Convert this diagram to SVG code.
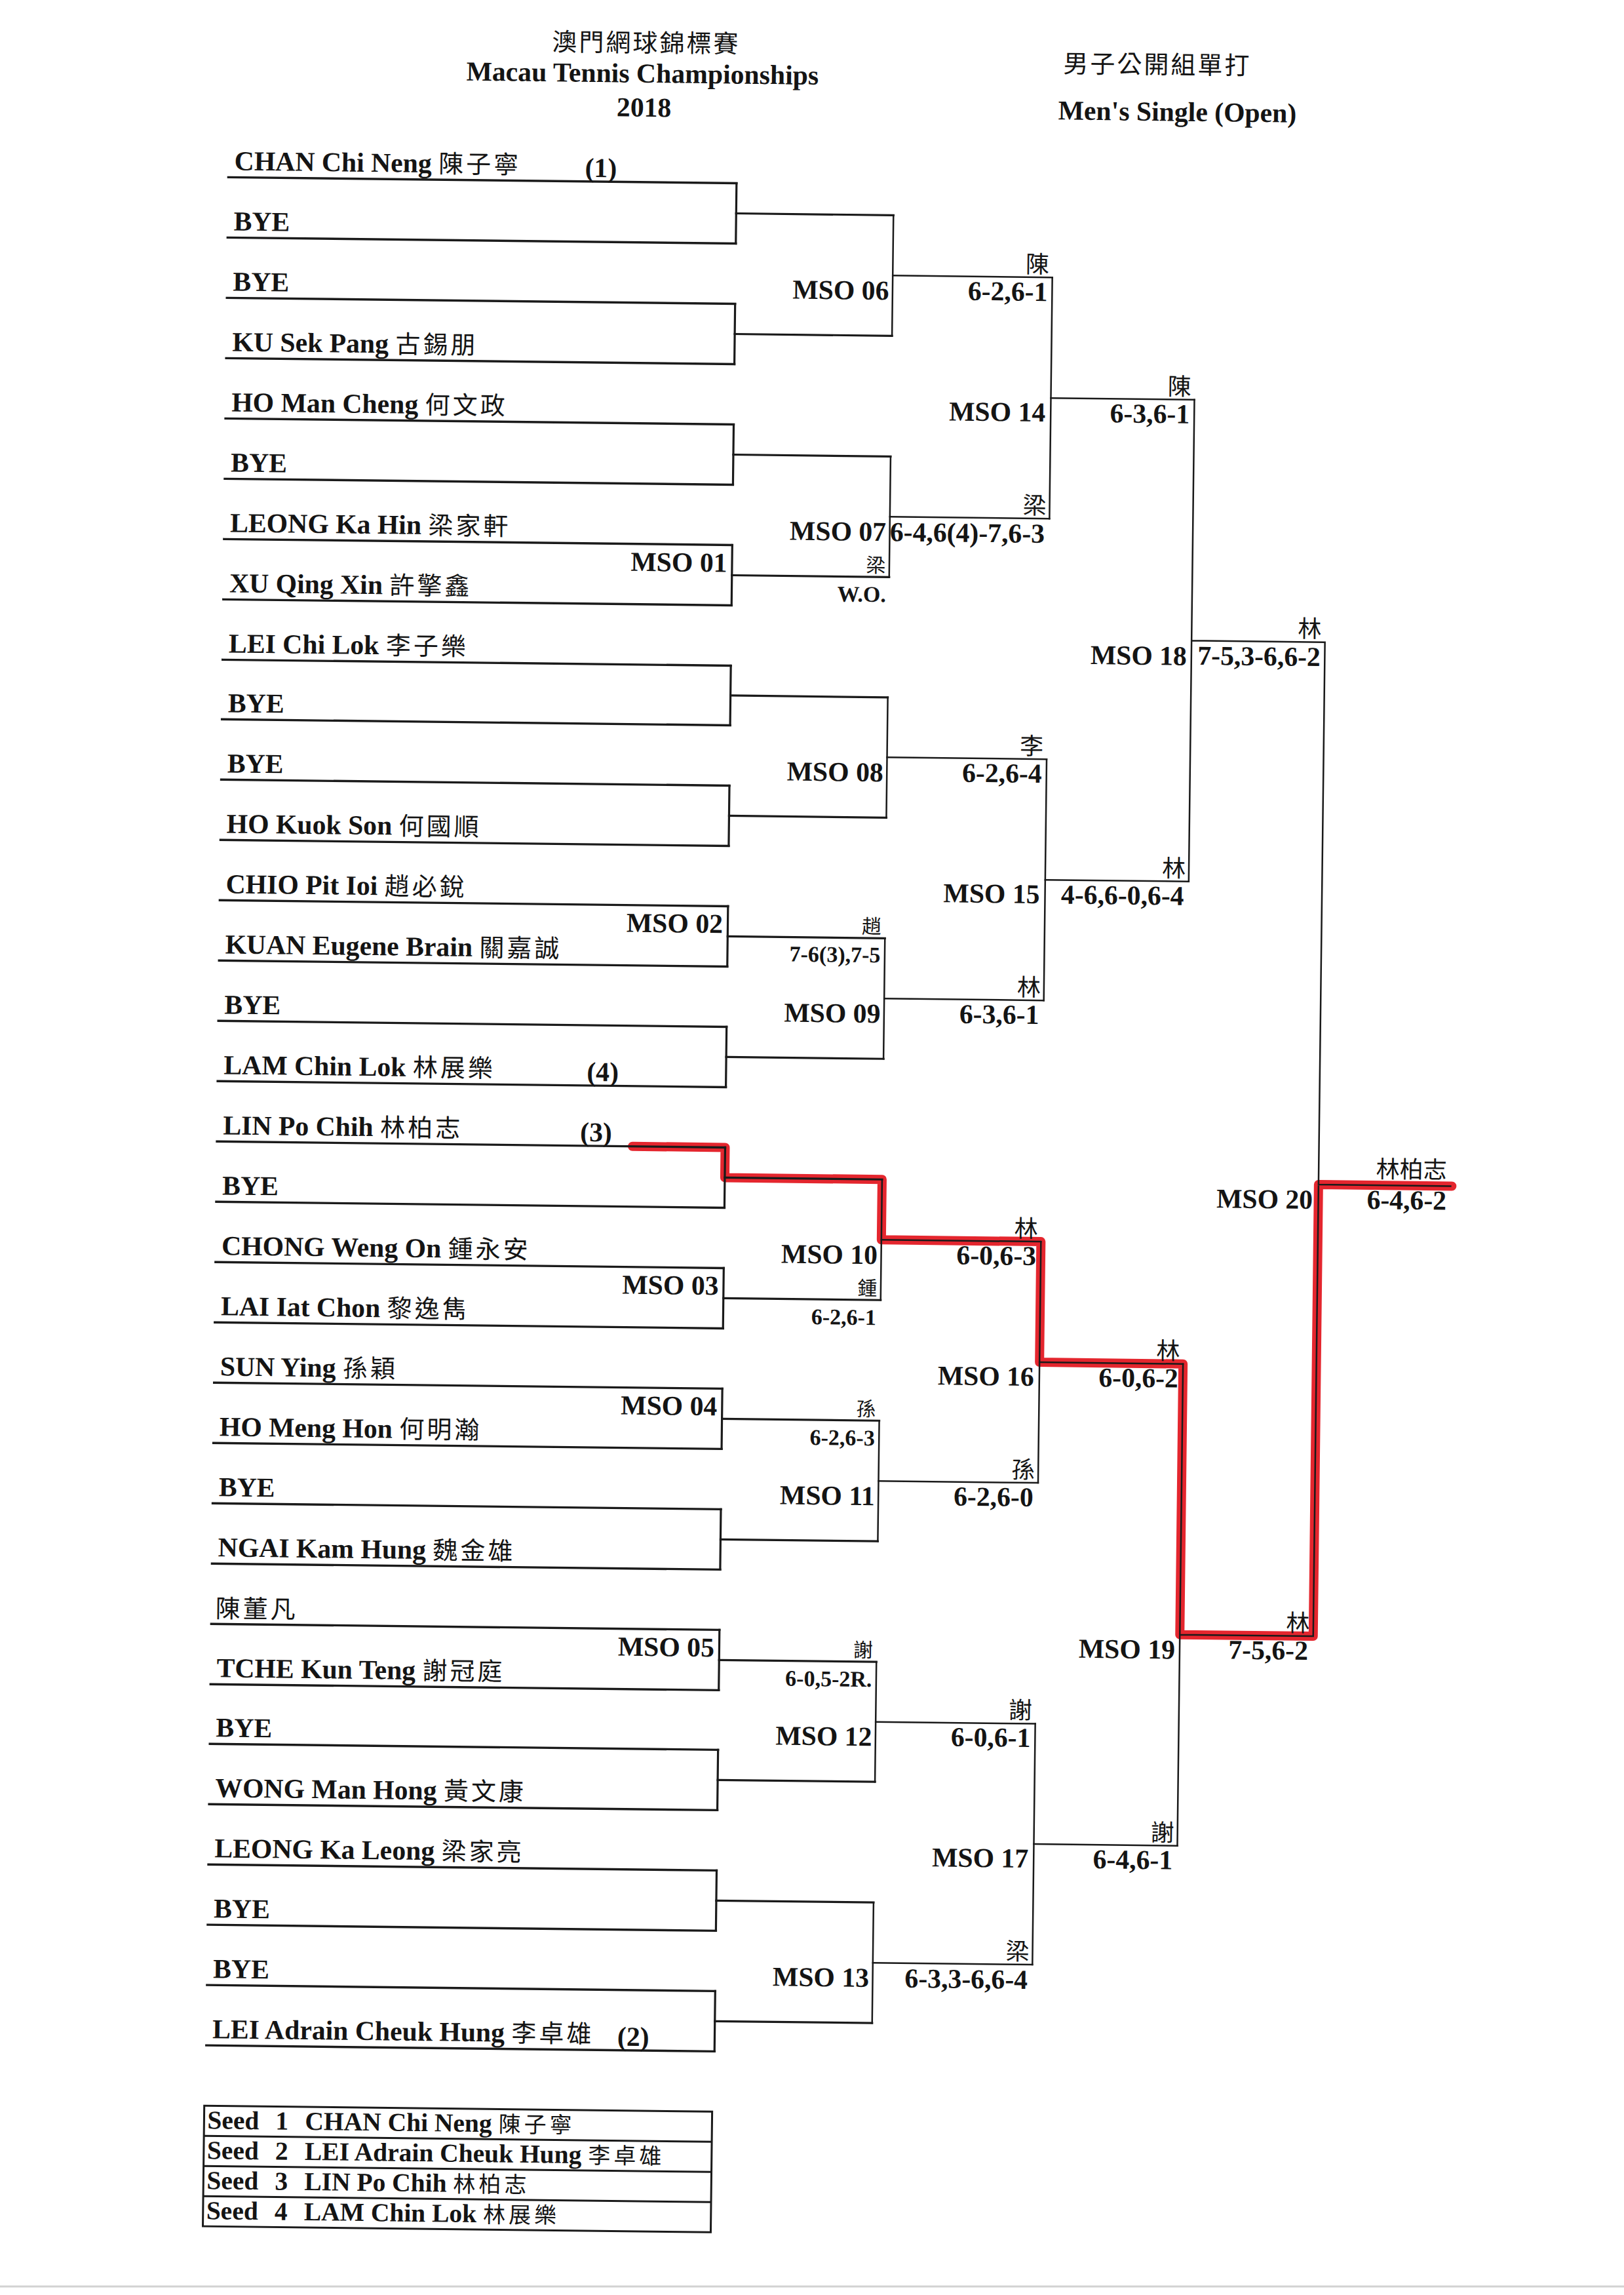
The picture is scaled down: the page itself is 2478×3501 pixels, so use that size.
<svg xmlns="http://www.w3.org/2000/svg" width="2478" height="3501" viewBox="0 0 2478 3501">
<style>
.t{font-family:"Liberation Serif","Times New Roman",serif;font-weight:bold;font-size:41.7px;fill:#141414}
.s{font-size:34px}
.sd{font-size:39.5px}
.e{text-anchor:end}
.m{text-anchor:middle}
.cj{font-family:"Noto Sans CJK TC","Noto Sans CJK SC",sans-serif;font-weight:400;font-size:38px;letter-spacing:4px}
.cjd{font-size:34px;letter-spacing:5px}
.cw{font-family:"Noto Sans CJK TC","Noto Sans CJK SC",sans-serif;font-weight:400;font-size:36px;fill:#141414}
.cws{font-size:30px}
.pl{stroke:#1a1a1a;stroke-width:3.4;fill:none;stroke-linecap:square}
.c1{stroke:#1a1a1a;stroke-width:3.2;fill:none;stroke-linecap:square}
.c2{stroke:#1a1a1a;stroke-width:2.5;fill:none;stroke-linecap:square}
.red{stroke:#e4262e;stroke-width:14;fill:none;stroke-linejoin:round;stroke-linecap:round}
.box{stroke:#1a1a1a;stroke-width:3;fill:none}
</style>
<rect x="0" y="0" width="2478" height="3501" fill="#ffffff"/>
<path d="M0 3488H2478" stroke="#d2d2d2" stroke-width="3" fill="none"/>
<g transform="rotate(0.676 1240 1750)">
<g id="title">
<text class="cw m" x="966" y="82" style="font-size:38px;letter-spacing:3px">澳門網球錦標賽</text>
<text class="t m" x="961" y="129">Macau Tennis Championships</text>
<text class="t m" x="964" y="181">2018</text>
<text class="cw" x="1603" y="106" style="font-size:38px;letter-spacing:3px">男子公開組單打</text>
<text class="t" x="1596" y="178">Men's Single (Open)</text>
</g>
<g id="red-path">
<path class="red" d="M965 1752H1106.5V1798H1346.5V1890H1590V2074H1809V2487H2012.5V1798H2216"/>
</g>
<g id="connectors">
<path class="c1" d="M1106.5 281V373M1106.5 465V557M1106.5 649V741M1106.5 833V925M1106.5 1017V1108M1106.5 1200V1292M1106.5 1384V1476M1106.5 1568V1660M1106.5 1752V1844M1106.5 1936V2028M1106.5 2120V2212M1106.5 2304V2396M1106.5 2488V2580M1106.5 2671V2763M1106.5 2855V2947M1106.5 3039V3131"/>
<path class="c1" d="M1106.5 327H1346.5M1106.5 511H1346.5M1106.5 695H1346.5M1106.5 879H1346.5M1106.5 1062.5H1346.5M1106.5 1246H1346.5M1106.5 1430H1346.5M1106.5 1614H1346.5M1106.5 1798H1346.5M1106.5 1982H1346.5M1106.5 2166H1346.5M1106.5 2350H1346.5M1106.5 2534H1346.5M1106.5 2717H1346.5M1106.5 2901H1346.5M1106.5 3085H1346.5"/>
<path class="c2" d="M1346.5 327V511M1346.5 695V879M1346.5 1062.5V1246M1346.5 1430V1614M1346.5 1798V1982M1346.5 2166V2350M1346.5 2534V2717M1346.5 2901V3085"/>
<path class="c2" d="M1346.5 419H1590M1346.5 787H1590M1346.5 1154H1590M1346.5 1522H1590M1346.5 1890H1590M1346.5 2258H1590M1346.5 2625.5H1590M1346.5 2993H1590"/>
<path class="c2" d="M1590 419V787M1590 1154V1522M1590 1890V2258M1590 2625.5V2993"/>
<path class="c2" d="M1590 603H1809M1590 1338H1809M1590 2074H1809M1590 2809H1809"/>
<path class="c2" d="M1809 603V1338M1809 2074V2809M1809 970.5H2012.5M1809 2487H2012.5M2012.5 970.5V2487M2012.5 1798H2214"/>
</g>
<g id="players">
<g id="p01"><path class="pl" d="M331 281H1106.5"/><text class="t" x="340" y="270">CHAN Chi Neng <tspan class="cj">陳子寧</tspan></text><text class="t" x="875" y="274">(1)</text></g>
<g id="p02"><path class="pl" d="M331 373H1106.5"/><text class="t" x="340" y="362">BYE</text></g>
<g id="p03"><path class="pl" d="M331 465H1106.5"/><text class="t" x="340" y="454">BYE</text></g>
<g id="p04"><path class="pl" d="M331 557H1106.5"/><text class="t" x="340" y="546">KU Sek Pang <tspan class="cj">古錫朋</tspan></text></g>
<g id="p05"><path class="pl" d="M331 649H1106.5"/><text class="t" x="340" y="638">HO Man Cheng <tspan class="cj">何文政</tspan></text></g>
<g id="p06"><path class="pl" d="M331 741H1106.5"/><text class="t" x="340" y="730">BYE</text></g>
<g id="p07"><path class="pl" d="M331 833H1106.5"/><text class="t" x="340" y="822">LEONG Ka Hin <tspan class="cj">梁家軒</tspan></text></g>
<g id="p08"><path class="pl" d="M331 925H1106.5"/><text class="t" x="340" y="914">XU Qing Xin <tspan class="cj">許擎鑫</tspan></text></g>
<g id="p09"><path class="pl" d="M331 1017H1106.5"/><text class="t" x="340" y="1006">LEI Chi Lok <tspan class="cj">李子樂</tspan></text></g>
<g id="p10"><path class="pl" d="M331 1108H1106.5"/><text class="t" x="340" y="1097">BYE</text></g>
<g id="p11"><path class="pl" d="M331 1200H1106.5"/><text class="t" x="340" y="1189">BYE</text></g>
<g id="p12"><path class="pl" d="M331 1292H1106.5"/><text class="t" x="340" y="1281">HO Kuok Son <tspan class="cj">何國順</tspan></text></g>
<g id="p13"><path class="pl" d="M331 1384H1106.5"/><text class="t" x="340" y="1373">CHIO Pit Ioi <tspan class="cj">趙必銳</tspan></text></g>
<g id="p14"><path class="pl" d="M331 1476H1106.5"/><text class="t" x="340" y="1465">KUAN Eugene Brain <tspan class="cj">關嘉誠</tspan></text></g>
<g id="p15"><path class="pl" d="M331 1568H1106.5"/><text class="t" x="340" y="1557">BYE</text></g>
<g id="p16"><path class="pl" d="M331 1660H1106.5"/><text class="t" x="340" y="1649">LAM Chin Lok <tspan class="cj">林展樂</tspan></text><text class="t" x="894" y="1653">(4)</text></g>
<g id="p17"><path class="pl" d="M331 1752H1106.5"/><text class="t" x="340" y="1741">LIN Po Chih <tspan class="cj">林柏志</tspan></text><text class="t" x="885" y="1745">(3)</text></g>
<g id="p18"><path class="pl" d="M331 1844H1106.5"/><text class="t" x="340" y="1833">BYE</text></g>
<g id="p19"><path class="pl" d="M331 1936H1106.5"/><text class="t" x="340" y="1925">CHONG Weng On <tspan class="cj">鍾永安</tspan></text></g>
<g id="p20"><path class="pl" d="M331 2028H1106.5"/><text class="t" x="340" y="2017">LAI Iat Chon <tspan class="cj">黎逸雋</tspan></text></g>
<g id="p21"><path class="pl" d="M331 2120H1106.5"/><text class="t" x="340" y="2109">SUN Ying <tspan class="cj">孫穎</tspan></text></g>
<g id="p22"><path class="pl" d="M331 2212H1106.5"/><text class="t" x="340" y="2201">HO Meng Hon <tspan class="cj">何明瀚</tspan></text></g>
<g id="p23"><path class="pl" d="M331 2304H1106.5"/><text class="t" x="340" y="2293">BYE</text></g>
<g id="p24"><path class="pl" d="M331 2396H1106.5"/><text class="t" x="340" y="2385">NGAI Kam Hung <tspan class="cj">魏金雄</tspan></text></g>
<g id="p25"><path class="pl" d="M331 2488H1106.5"/><text class="t" x="337" y="2478"><tspan class="cj">陳董凡</tspan></text></g>
<g id="p26"><path class="pl" d="M331 2580H1106.5"/><text class="t" x="340" y="2569">TCHE Kun Teng <tspan class="cj">謝冠庭</tspan></text></g>
<g id="p27"><path class="pl" d="M331 2671H1106.5"/><text class="t" x="340" y="2660">BYE</text></g>
<g id="p28"><path class="pl" d="M331 2763H1106.5"/><text class="t" x="340" y="2752">WONG Man Hong <tspan class="cj">黃文康</tspan></text></g>
<g id="p29"><path class="pl" d="M331 2855H1106.5"/><text class="t" x="340" y="2844">LEONG Ka Leong <tspan class="cj">梁家亮</tspan></text></g>
<g id="p30"><path class="pl" d="M331 2947H1106.5"/><text class="t" x="340" y="2936">BYE</text></g>
<g id="p31"><path class="pl" d="M331 3039H1106.5"/><text class="t" x="340" y="3028">BYE</text></g>
<g id="p32"><path class="pl" d="M331 3131H1106.5"/><text class="t" x="340" y="3120">LEI Adrain Cheuk Hung <tspan class="cj">李卓雄</tspan></text><text class="t" x="958" y="3124">(2)</text></g>
</g>
<g id="matches">
<g id="mso01"><text class="t e" x="1099" y="874">MSO 01</text><text class="cw cws e" x="1341" y="872">梁</text><text class="t s e" x="1342" y="917">W.O.</text></g>
<g id="mso02"><text class="t e" x="1099" y="1425">MSO 02</text><text class="cw cws e" x="1341" y="1423">趙</text><text class="t s e" x="1340" y="1467">7-6(3),7-5</text></g>
<g id="mso03"><text class="t e" x="1099" y="1977">MSO 03</text><text class="cw cws e" x="1341" y="1975">鍾</text><text class="t s e" x="1340" y="2020">6-2,6-1</text></g>
<g id="mso04"><text class="t e" x="1099" y="2161">MSO 04</text><text class="cw cws e" x="1341" y="2159">孫</text><text class="t s e" x="1340" y="2204">6-2,6-3</text></g>
<g id="mso05"><text class="t e" x="1099" y="2529">MSO 05</text><text class="cw cws e" x="1341" y="2527">謝</text><text class="t s e" x="1340" y="2572">6-0,5-2R.</text></g>
<g id="mso06"><text class="t e" x="1341" y="456">MSO 06</text><text class="cw e" x="1585" y="412">陳</text><text class="t e" x="1583" y="455">6-2,6-1</text></g>
<g id="mso07"><text class="t e" x="1341" y="824">MSO 07</text><text class="cw e" x="1585" y="780">梁</text><text class="t e" x="1583" y="824">6-4,6(4)-7,6-3</text></g>
<g id="mso08"><text class="t e" x="1341" y="1191">MSO 08</text><text class="cw e" x="1585" y="1147">李</text><text class="t e" x="1583" y="1190">6-2,6-4</text></g>
<g id="mso09"><text class="t e" x="1341" y="1559">MSO 09</text><text class="cw e" x="1585" y="1515">林</text><text class="t e" x="1583" y="1558">6-3,6-1</text></g>
<g id="mso10"><text class="t e" x="1341" y="1927">MSO 10</text><text class="cw e" x="1585" y="1883">林</text><text class="t e" x="1583" y="1926">6-0,6-3</text></g>
<g id="mso11"><text class="t e" x="1341" y="2295">MSO 11</text><text class="cw e" x="1585" y="2251">孫</text><text class="t e" x="1583" y="2294">6-2,6-0</text></g>
<g id="mso12"><text class="t e" x="1341" y="2662">MSO 12</text><text class="cw e" x="1585" y="2618">謝</text><text class="t e" x="1583" y="2661">6-0,6-1</text></g>
<g id="mso13"><text class="t e" x="1341" y="3030">MSO 13</text><text class="cw e" x="1585" y="2986">梁</text><text class="t e" x="1583" y="3030">6-3,3-6,6-4</text></g>
<g id="mso14"><text class="t e" x="1582" y="639">MSO 14</text><text class="cw e" x="1804" y="596">陳</text><text class="t e" x="1802" y="639">6-3,6-1</text></g>
<g id="mso15"><text class="t e" x="1582" y="1374">MSO 15</text><text class="cw e" x="1804" y="1331">林</text><text class="t e" x="1802" y="1374">4-6,6-0,6-4</text></g>
<g id="mso16"><text class="t e" x="1582" y="2110">MSO 16</text><text class="cw e" x="1804" y="2067">林</text><text class="t e" x="1802" y="2110">6-0,6-2</text></g>
<g id="mso17"><text class="t e" x="1582" y="2845">MSO 17</text><text class="cw e" x="1804" y="2802">謝</text><text class="t e" x="1802" y="2845">6-4,6-1</text></g>
<g id="mso18"><text class="t e" x="1802" y="1008">MSO 18</text><text class="cw e" x="2007" y="963">林</text><text class="t e" x="2006" y="1007">7-5,3-6,6-2</text></g>
<g id="mso19"><text class="t e" x="1802" y="2524">MSO 19</text><text class="cw e" x="2007" y="2480">林</text><text class="t e" x="2005" y="2523">7-5,6-2</text></g>
<g id="mso20"><text class="t e" x="2004" y="1835">MSO 20</text><text class="cw e" x="2208" y="1786" style="letter-spacing:0">林柏志</text><text class="t e" x="2208" y="1834">6-4,6-2</text></g>
</g>
<g id="seeds">
<rect class="box" x="329" y="3223" width="775" height="184"/>
<path class="box" d="M329 3269H1104M329 3315H1104M329 3361H1104"/>
<text class="t sd" x="334" y="3258">Seed<tspan x="438">1</tspan><tspan x="483">CHAN Chi Neng </tspan><tspan class="cj cjd">陳子寧</tspan></text>
<text class="t sd" x="334" y="3304">Seed<tspan x="438">2</tspan><tspan x="483">LEI Adrain Cheuk Hung </tspan><tspan class="cj cjd">李卓雄</tspan></text>
<text class="t sd" x="334" y="3350">Seed<tspan x="438">3</tspan><tspan x="483">LIN Po Chih </tspan><tspan class="cj cjd">林柏志</tspan></text>
<text class="t sd" x="334" y="3396">Seed<tspan x="438">4</tspan><tspan x="483">LAM Chin Lok </tspan><tspan class="cj cjd">林展樂</tspan></text>
</g>
</g>
</svg>
